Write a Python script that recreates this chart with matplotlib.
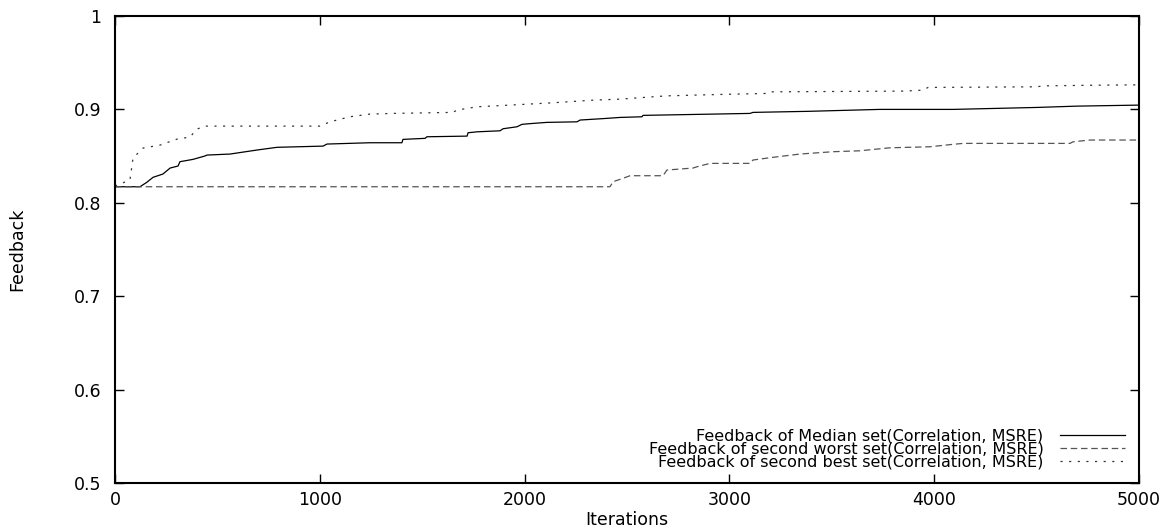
import matplotlib
matplotlib.use("Agg")
import matplotlib.pyplot as plt

# ---- data ----
median_x = [0, 122, 155, 186, 234, 269, 308, 317, 381, 439, 449, 562, 693, 791,
            1016, 1035, 1245, 1401, 1406, 1514, 1523, 1719, 1724, 1768, 1880,
            1895, 1963, 1987, 2041, 2109, 2256, 2271, 2402, 2466, 2573, 2578,
            3101, 3115, 3379, 3735, 4092, 4502, 4697, 5000]
median_y = [0.8172, 0.8172, 0.8219, 0.8273, 0.8308, 0.8372, 0.8394, 0.8440,
            0.8465, 0.8501, 0.8511, 0.8522, 0.8565, 0.8594, 0.8607, 0.8629,
            0.8643, 0.8643, 0.8679, 0.8690, 0.8707, 0.8714, 0.8750, 0.8760,
            0.8771, 0.8793, 0.8814, 0.8840, 0.8850, 0.8861, 0.8867, 0.8886,
            0.8904, 0.8914, 0.8921, 0.8936, 0.8957, 0.8968, 0.8979, 0.9000,
            0.9000, 0.9021, 0.9035, 0.9046]

worst_x = [0, 2417, 2432, 2466, 2515, 2676, 2695, 2822, 2842, 2905, 3101, 3115,
           3213, 3345, 3506, 3638, 3784, 3979, 4092, 4141, 4663, 4678, 4761, 5000]
worst_y = [0.8172, 0.8172, 0.8226, 0.8251, 0.8290, 0.8290, 0.8351, 0.8372,
           0.8386, 0.8422, 0.8422, 0.8458, 0.8487, 0.8522, 0.8547, 0.8557,
           0.8589, 0.8600, 0.8626, 0.8636, 0.8636, 0.8653, 0.8672, 0.8672]

best_x = [0, 73, 88, 137, 220, 303, 366, 400, 439, 1001, 1050, 1147, 1245, 1357,
          1650, 1670, 1768, 1929, 2139, 2334, 2466, 2627, 2695, 2954, 3184,
          3198, 3848, 3945, 3970, 4502, 4531, 4824, 5000]
best_y = [0.8180, 0.8244, 0.8479, 0.8586, 0.8618, 0.8682, 0.8704, 0.8789,
          0.8821, 0.8821, 0.8867, 0.8921, 0.8950, 0.8957, 0.8968, 0.8993,
          0.9028, 0.9046, 0.9071, 0.9099, 0.9110, 0.9135, 0.9145, 0.9160,
          0.9171, 0.9188, 0.9196, 0.9206, 0.9235, 0.9242, 0.9252, 0.9260,
          0.9263]

labels = ["Feedback of Median set(Correlation, MSRE)",
          "Feedback of second worst set(Correlation, MSRE)",
          "Feedback of second best set(Correlation, MSRE)"]
x_ticks = [0, 1000, 2000, 3000, 4000, 5000]
y_ticks = [0.5, 0.6, 0.7, 0.8, 0.9, 1.0]
y_tick_labels = ["0.5", "0.6", "0.7", "0.8", "0.9", "1"]

plt.rcParams['font.family'] = ['DejaVu Sans']
FS = 12.5
LFS = 11.5

fig = plt.figure(figsize=(11.72, 5.28), dpi=100)
ax = fig.add_axes([115/1172, 1 - 483/528, 1024/1172, 467/528])

ax.plot(median_x, median_y, color='black', lw=0.9, label=labels[0])
ax.plot(worst_x, worst_y, color='#555555', lw=0.9, linestyle=(0, (5.2, 3.0)),
        label=labels[1])
ax.plot(best_x, best_y, color='#333333', lw=0.9, linestyle=(0, (1.7, 5.2)),
        label=labels[2])

ax.set_xlim(0, 5000)
ax.set_ylim(0.5, 1.0)
ax.set_xticks(x_ticks)
ax.set_xticklabels([str(t) for t in x_ticks])
ax.set_yticks(y_ticks)
ax.set_yticklabels(y_tick_labels)

for s in ax.spines.values():
    s.set_linewidth(1.5)
ax.tick_params(axis='both', direction='in', length=6.5, width=1.0,
               top=True, right=True, labelsize=FS)
ax.tick_params(axis='y', pad=10)
ax.tick_params(axis='x', pad=6)

ax.set_xlabel("Iterations", fontsize=FS)
ax.xaxis.set_label_coords(0.5, (483 - 511) / 467)
ax.set_ylabel("Feedback", fontsize=FS)
ax.yaxis.set_label_coords((26 - 115) / 1024, 0.5)

leg = ax.legend(loc='lower right', bbox_to_anchor=((1125 - 115) / 1024, 0.028),
                frameon=False, markerfirst=False, fontsize=LFS,
                handlelength=4.1, handletextpad=1.0, borderpad=0,
                borderaxespad=0, labelspacing=-0.1)
for t in leg.get_texts():
    t.set_ha('right')
leg._legend_box.align = "right"

fig.savefig("out.png", dpi=100)
